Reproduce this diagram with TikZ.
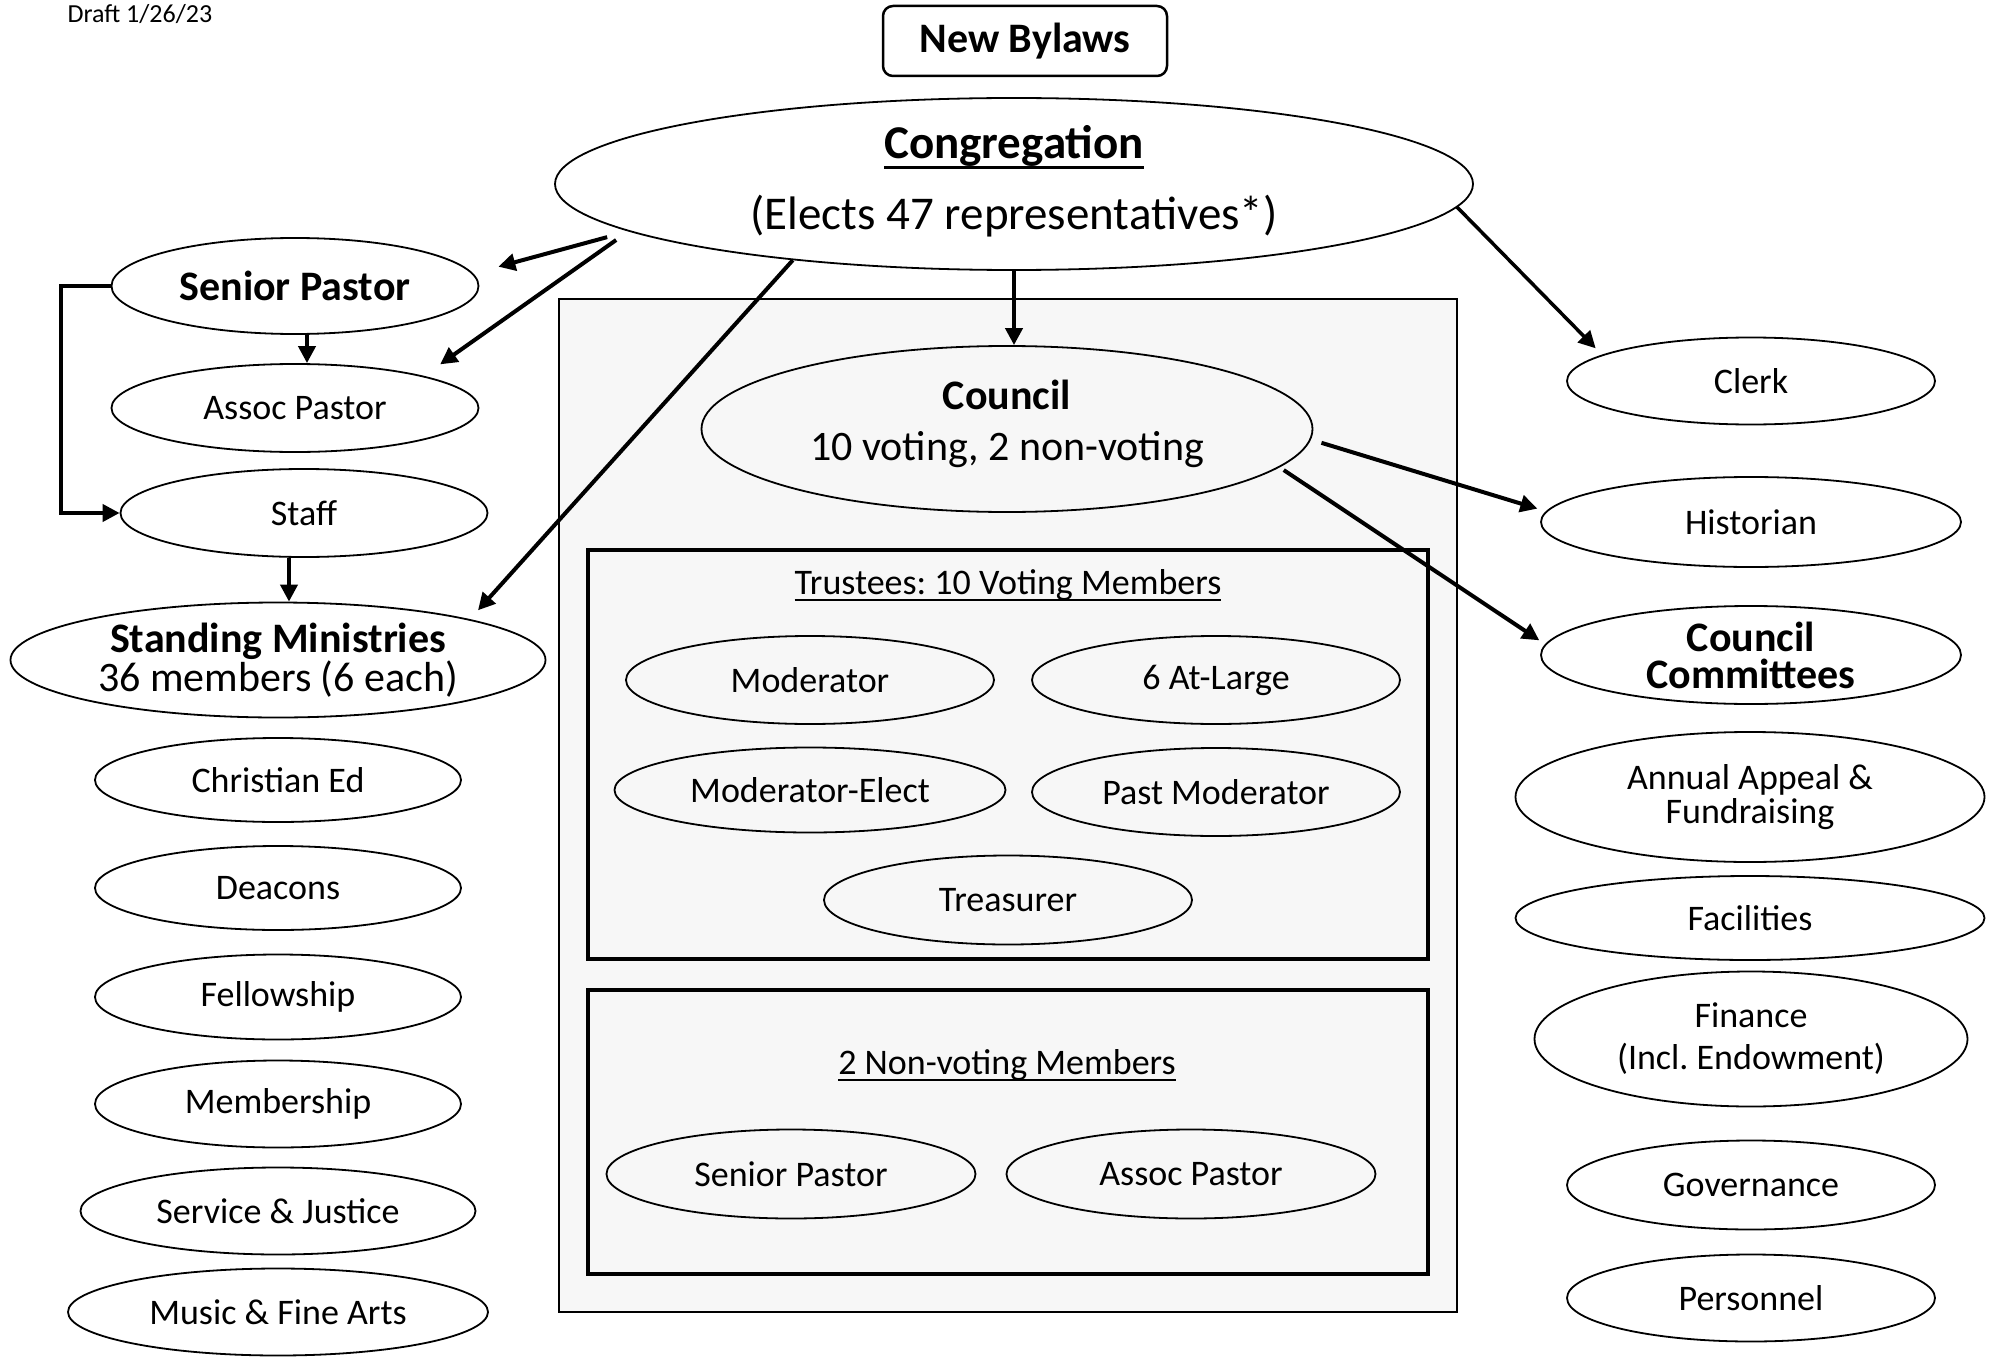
\documentclass[tikz,border=0pt]{standalone}
\usepackage{fontspec}
\setmainfont{Carlito}
\usetikzlibrary{shapes.geometric,arrows.meta}
\frenchspacing

\newcommand{\regfont}{\fontsize{36}{42}\selectfont}
\newcommand{\bigfont}{\fontsize{42}{37}\selectfont}
% underline: #1 offset below baseline, #2 thickness
\newcommand{\ulined}[3]{\leavevmode\setbox0\hbox{#3}\vtop{\hbox{\copy0}\kern\dimexpr#1-\dp0\relax\hrule height #2}}

\tikzset{
  oval/.style={ellipse, draw, line width=1.8pt, inner sep=0pt, align=center, font=\regfont},
  link/.style={line width=4pt, -{Triangle[length=17pt,width=17pt]}},
  framebox/.style={draw, line width=4.5pt},
}

\begin{document}
\begin{tikzpicture}[x=1pt, y=-1pt]
	\useasboundingbox (0,0) rectangle (1997,1359);

	% Define boxes
	\draw[line width=2pt, fill=black!3] (559,299) rectangle (1457,1312);
	\draw[framebox] (588,550) rectangle (1428,959);
	\draw[framebox] (588,990) rectangle (1428,1274);

	% Define nodes
	\node[font=\fontsize{26}{30}\selectfont, anchor=west] (draft) at (64,14) {Draft 1/26/23};
	\node[draw, rounded corners=10pt, line width=2.5pt, minimum width=284pt, minimum height=70pt, font=\bfseries\bigfont] (bylaws) at (1025,41) {New Bylaws};
	\node[oval, minimum width=918pt, minimum height=172pt, font=\fontsize{47}{71}\selectfont, text depth=14pt] (cong) at (1014,184) {\textbf{\ulined{8pt}{3pt}{Congregation}}\\(Elects 47 representatives*)};

	\node[oval, minimum width=367pt, minimum height=96pt, font=\bfseries\bigfont] (sp) at (295,286) {Senior Pastor};
	\node[oval, minimum width=367pt, minimum height=88pt] (ap) at (295,408) {Assoc Pastor};
	\node[oval, minimum width=367pt, minimum height=88pt] (staff) at (304,513) {Staff};
	\node[oval, minimum width=535pt, minimum height=115pt, font=\bigfont] (sm) at (278,660) {\textbf{Standing Ministries}\\36 members (6 each)};
	\node[oval, minimum width=366pt, minimum height=84pt] (chred) at (278,780) {Christian Ed};
	\node[oval, minimum width=366pt, minimum height=84pt] (deacons) at (278,888) {Deacons};
	\node[oval, minimum width=366pt, minimum height=85pt] (fellow) at (278,997) {Fellowship};
	\node[oval, minimum width=366pt, minimum height=87pt] (member) at (278,1104) {Membership};
	\node[oval, minimum width=395pt, minimum height=87pt] (service) at (278,1211) {Service \& Justice};
	\node[oval, minimum width=420pt, minimum height=87pt] (music) at (278,1312) {Music \& Fine Arts};

	\node[oval, minimum width=611pt, minimum height=166pt, font=\fontsize{42}{51}\selectfont, text depth=18pt] (council) at (1007,429) {\textbf{Council}\\10 voting, 2 non-voting};

	\node[font=\regfont] (trtitle) at (1008,585) {\ulined{4pt}{2pt}{Trustees: 10 Voting Members}};
	\node[oval, minimum width=368pt, minimum height=88pt] (mod) at (810,680) {Moderator};
	\node[oval, minimum width=368pt, minimum height=88pt] (atlarge) at (1216,680) {6 At-Large};
	\node[oval, minimum width=391pt, minimum height=85pt] (modelect) at (810,790) {Moderator-Elect};
	\node[oval, minimum width=368pt, minimum height=88pt] (pastmod) at (1216,792) {Past Moderator};
	\node[oval, minimum width=368pt, minimum height=89pt] (treas) at (1008,900) {Treasurer};

	\node[font=\regfont] (nvtitle) at (1007,1065) {\ulined{4pt}{2pt}{2 Non-voting Members}};
	\node[oval, minimum width=369pt, minimum height=89pt] (nvsp) at (791,1174) {Senior Pastor};
	\node[oval, minimum width=369pt, minimum height=89pt] (nvap) at (1191,1174) {Assoc Pastor};

	\node[oval, minimum width=368pt, minimum height=87pt] (clerk) at (1751,381) {Clerk};
	\node[oval, minimum width=420pt, minimum height=90pt] (historian) at (1751,522) {Historian};
	\node[oval, minimum width=420pt, minimum height=98pt, font=\bfseries\bigfont] (cc) at (1751,655) {Council\\Committees};
	\node[oval, minimum width=469pt, minimum height=130pt, font=\fontsize{36}{34}\selectfont] (appeal) at (1750,797) {Annual Appeal \&\\Fundraising};
	\node[oval, minimum width=469pt, minimum height=84pt] (facil) at (1750,918) {Facilities};
	\node[oval, minimum width=433pt, minimum height=135pt] (finance) at (1751,1039) {Finance\\(Incl. Endowment)};
	\node[oval, minimum width=368pt, minimum height=89pt] (gov) at (1751,1185) {Governance};
	\node[oval, minimum width=368pt, minimum height=87pt] (personnel) at (1751,1298) {Personnel};

	% Connect the nodes
	\draw[link, shorten <=22pt, shorten >=26pt] (cong.187.3) -- (sp.4.9);
	\draw[link, shorten <=15pt, shorten >=20pt] (cong.187.9) -- (ap.14.5);
	\draw[link, shorten >=12pt] (cong.199.4) -- (sm.12);
	\draw[link] (cong.south) -- (cong.south |- council.north);
	\draw[link, line width=3.5pt, shorten >=9pt] (cong.-3.1) -- (clerk.170.9);
	\draw[link, shorten <=11pt, shorten >=9pt] (council.-2.66) -- (historian.177.7);
	\draw[link, shorten <=5pt, shorten >=7pt] (council.-8.5) -- (cc.177.9);
	\draw[link] ([xshift=12pt]sp.south) -- ([xshift=12pt]ap.north);
	\draw[link] ([xshift=-15pt]staff.south) -- ([xshift=11pt]sm.north);
	\draw[link] (sp.west) -- ++(-50,0) |- (staff.west);
\end{tikzpicture}
\end{document}
